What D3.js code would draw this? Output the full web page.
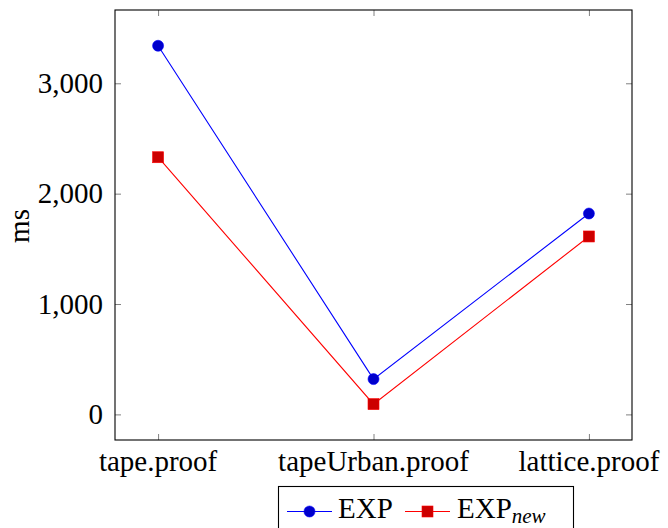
<!DOCTYPE html>
<html lang="en">
	<head>
		<meta charset="utf-8">
		<title>EXP vs EXP new</title>
		<script type="text/javascript" src="https://cdn.jsdelivr.net/npm/d3@7"></script>
		<style type="text/css">
			body { margin: 0; background: #fff; }
			svg text {
				font-family: "Liberation Serif", "DejaVu Serif", serif;
				font-size: 29px;
				fill: #000;
			}
			.tick line { stroke: #808080; }
		</style>
	</head>
	<body>
		<script type="text/javascript">

			//Canvas size
			var w = 668;
			var h = 528;

			//Data
			var categories = ["tape.proof", "tapeUrban.proof", "lattice.proof"];
			var expValues = [3340, 320, 1820];
			var expNewValues = [2330, 93, 1612];
			var yTicks = [0, 1000, 2000, 3000];

			//Plot frame (window.top is taken, so use plot* names)
			var plotLeft = 115, plotRight = 632, plotTop = 10, plotBottom = 440;

			var xScale = d3.scaleLinear()
							.domain([-0.2, categories.length - 1 + 0.2])
							.range([plotLeft, plotRight]);

			var yScale = d3.scaleLinear()
							.domain([-232, 3664])
							.range([plotBottom, plotTop]);

			var svg = d3.select("body")
						.append("svg")
						.attr("width", w)
						.attr("height", h);

			var fmt = d3.format(",");

			//Inner ticks, on all four sides
			var tickLen = 6;
			var yAxisL = d3.axisRight(yScale).tickValues(yTicks).tickSize(tickLen).tickFormat("");
			var yAxisR = d3.axisLeft(yScale).tickValues(yTicks).tickSize(tickLen).tickFormat("");
			var idx = categories.map(function(d, i){ return i; });
			var xAxisB = d3.axisTop(xScale).tickValues(idx).tickSize(tickLen).tickFormat("");
			var xAxisT = d3.axisBottom(xScale).tickValues(idx).tickSize(tickLen).tickFormat("");

			[[yAxisL, "translate(" + plotLeft + ",0)"],
			 [yAxisR, "translate(" + plotRight + ",0)"],
			 [xAxisB, "translate(0," + plotBottom + ")"],
			 [xAxisT, "translate(0," + plotTop + ")"]].forEach(function(a) {
				var g = svg.append("g").attr("transform", a[1]).call(a[0]);
				g.select(".domain").remove();
			});

			//Tick labels
			svg.append("g")
				.selectAll("text")
				.data(yTicks)
				.enter()
				.append("text")
				.attr("x", plotLeft - 12)
				.attr("y", function(d){ return yScale(d); })
				.attr("dy", "0.33em")
				.attr("text-anchor", "end")
				.text(function(d){ return fmt(d); });

			svg.append("g")
				.selectAll("text")
				.data(categories)
				.enter()
				.append("text")
				.attr("x", function(d, i){ return xScale(i); })
				.attr("y", 471)
				.attr("text-anchor", "middle")
				.text(function(d){ return d; });

			//Axis title
			svg.append("text")
				.attr("transform", "translate(29,226) rotate(-90)")
				.attr("text-anchor", "middle")
				.text("ms");

			//Frame
			svg.append("rect")
				.attr("x", plotLeft)
				.attr("y", plotTop)
				.attr("width", plotRight - plotLeft)
				.attr("height", plotBottom - plotTop)
				.attr("fill", "none")
				.attr("stroke", "#000")
				.attr("stroke-width", 1.1);

			//Series
			var series = [
				{ values: expValues, line: "#0000ff", fill: "#0000cc", mark: "circle" },
				{ values: expNewValues, line: "#ff0000", fill: "#cc0000", mark: "square" }
			];

			var line = d3.line()
						.x(function(d, i){ return xScale(i); })
						.y(function(d){ return yScale(d); });

			function drawMark(g, type, x, y, s) {
				if (type == "circle") {
					g.append("circle")
						.attr("cx", x).attr("cy", y).attr("r", 5.5)
						.attr("fill", s.fill).attr("stroke", s.line).attr("stroke-width", 0.6);
				} else {
					g.append("rect")
						.attr("x", x - 5.5).attr("y", y - 5.5)
						.attr("width", 11).attr("height", 11)
						.attr("fill", s.fill).attr("stroke", s.line).attr("stroke-width", 0.6);
				}
			}

			series.forEach(function(s) {
				svg.append("path")
					.datum(s.values)
					.attr("d", line)
					.attr("fill", "none")
					.attr("stroke", s.line)
					.attr("stroke-width", 1.1);
				var g = svg.append("g");
				s.values.forEach(function(v, i) {
					drawMark(g, s.mark, xScale(i), yScale(v), s);
				});
			});

			//Legend
			var legend = svg.append("g");
			legend.append("rect")
				.attr("x", 278.5)
				.attr("y", 486.5)
				.attr("width", 295)
				.attr("height", 60)
				.attr("fill", "#fff")
				.attr("stroke", "#000")
				.attr("stroke-width", 1.1);

			var ly = 511.5;
			var entries = [
				{ s: series[0], x0: 287, x1: 332, tx: 338, label: "EXP", sub: null },
				{ s: series[1], x0: 405, x1: 450, tx: 457, label: "EXP", sub: "new" }
			];
			entries.forEach(function(e) {
				legend.append("line")
					.attr("x1", e.x0).attr("x2", e.x1)
					.attr("y1", ly).attr("y2", ly)
					.attr("stroke", e.s.line).attr("stroke-width", 1.1);
				drawMark(legend, e.s.mark, (e.x0 + e.x1) / 2, ly, e.s);
				var t = legend.append("text")
					.attr("x", e.tx)
					.attr("y", ly + 6)
					.text(e.label);
				if (e.sub) {
					t.append("tspan")
						.attr("dy", 5)
						.attr("font-style", "italic")
						.style("font-size", "21px")
						.text(e.sub);
				}
			});

		</script>
	</body>
</html>
